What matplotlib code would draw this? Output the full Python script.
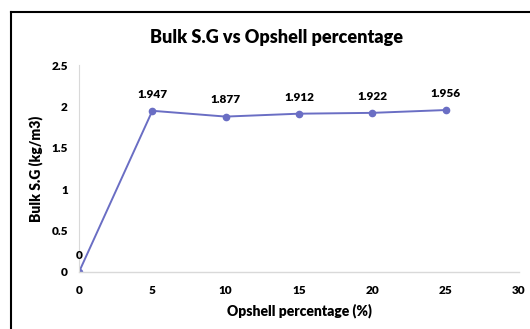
import matplotlib.pyplot as plt
from matplotlib.lines import Line2D

# Bulk specific gravity against opshell replacement
opshell_pct = [0, 5, 10, 15, 20, 25]
bulk_sg = [0, 1.947, 1.877, 1.912, 1.922, 1.956]
x_ticks = [0, 5, 10, 15, 20, 25, 30]
y_ticks = [0, 0.5, 1, 1.5, 2, 2.5]
y_tick_labels = ['0', '0.5', '1', '1.5', '2', '2.5']

plt.rcParams['font.family'] = ['Lato', 'DejaVu Sans']
plt.rcParams['font.weight'] = 'heavy'

fig = plt.figure(figsize=(5.3, 3.29), dpi=100)
ax = fig.add_axes([79 / 530, 1 - 272 / 329, 440 / 530, 207 / 329])

line_col = '#6a6ec4'
ax.plot(opshell_pct, bulk_sg, color=line_col, lw=1.4, marker='o', ms=4.5)

# value labels above each point
for x, y in zip(opshell_pct, bulk_sg):
    lbl = '0' if y == 0 else '%.3f' % y
    ax.annotate(lbl, (x, y), xytext=(0, 8), textcoords='offset points',
                ha='center', va='bottom', fontsize=8.5, fontweight='heavy')

ax.set_xlim(0, 30)
ax.set_ylim(0, 2.5)
ax.set_xticks(x_ticks)
ax.set_yticks(y_ticks)
ax.set_yticklabels(y_tick_labels)
ax.tick_params(length=0, labelsize=8.5)
ax.tick_params(axis='x', pad=9)
ax.tick_params(axis='y', pad=8)
for t in ax.get_xticklabels() + ax.get_yticklabels():
    t.set_fontweight('heavy')

for s in ['top', 'right']:
    ax.spines[s].set_visible(False)
ax.spines['left'].set_color('#d9d9d9')
ax.spines['bottom'].set_color('#d9d9d9')
ax.spines['left'].set_linewidth(0.8)
ax.spines['bottom'].set_linewidth(1.0)

ax.set_xlabel('Opshell percentage (%)', fontsize=10, fontweight='heavy', labelpad=6)
ax.set_ylabel('Bulk S.G (kg/m3)', fontsize=10, fontweight='heavy', labelpad=6)
fig.text(276 / 530, 1 - 38 / 329, 'Bulk S.G vs Opshell percentage',
         ha='center', va='center', fontsize=13, fontweight='heavy')

# black frame along the top and left edges
fig.add_artist(Line2D([11 / 530, 1], [1 - 12 / 329, 1 - 12 / 329], color='black', lw=1.5))
fig.add_artist(Line2D([11 / 530, 11 / 530], [0, 1 - 12 / 329], color='black', lw=1.5))

fig.savefig('out.png', dpi=100)
